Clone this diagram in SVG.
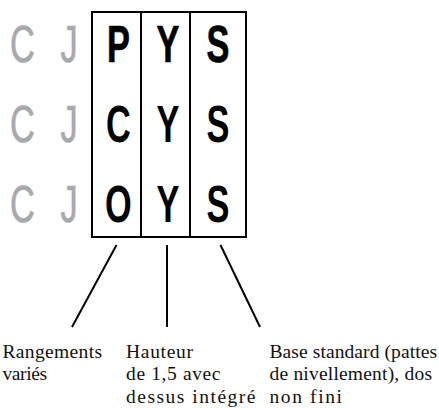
<svg xmlns="http://www.w3.org/2000/svg" width="439" height="408" viewBox="0 0 439 408">
<style>
.big{font-family:"Liberation Sans",Arial,sans-serif;font-size:52px;font-weight:bold;text-anchor:middle}
.gray{fill:#a7a9ac;font-weight:normal;stroke:#a7a9ac;stroke-width:0.7}
.blk{fill:#000}
.r1{stroke:#000;stroke-width:0.7}
.lbl{font-family:'Liberation Serif','Times New Roman',serif;font-size:19.5px;fill:#111}
.box{fill:none;stroke:#000;stroke-width:2}
.conn{stroke:#000;stroke-width:2;fill:none}
</style>
<g id="row-labels">
<g transform="scale(0.66,1)">
<text class="big gray" x="34" y="62">C</text>
<text class="big gray" x="104.5" y="62">J</text>
<text class="big gray" x="34" y="142">C</text>
<text class="big gray" x="104.5" y="142">J</text>
<text class="big gray" x="34" y="222">C</text>
<text class="big gray" x="104.5" y="222">J</text>
</g>
</g>
<g id="grid">
<rect class="box" x="92" y="12" width="154" height="225"/>
<line class="box" x1="141" y1="12" x2="141" y2="237"/>
<line class="box" x1="190" y1="12" x2="190" y2="237"/>
</g>
<g id="col1">
<g transform="scale(0.66,1)">
<text class="big blk r1" x="179.5" y="62">P</text>
<text class="big blk" x="179.5" y="142">C</text>
<text class="big blk" x="179.5" y="222">O</text>
</g>
</g>
<g id="col2">
<g transform="scale(0.66,1)">
<text class="big blk r1" x="254.5" y="62">Y</text>
<text class="big blk" x="254.5" y="142">Y</text>
<text class="big blk" x="254.5" y="222">Y</text>
</g>
</g>
<g id="col3">
<g transform="scale(0.66,1)">
<text class="big blk r1" x="330.3" y="62">S</text>
<text class="big blk" x="330.3" y="142">S</text>
<text class="big blk" x="330.3" y="222">S</text>
</g>
</g>
<g id="connectors">
<line class="conn" x1="116.5" y1="245" x2="72" y2="327"/>
<line class="conn" x1="167" y1="245" x2="167" y2="327"/>
<line class="conn" x1="220.5" y1="245" x2="260" y2="327"/>
</g>
<g id="label1">
<text class="lbl" x="2.5" y="357.5" textLength="99.5" lengthAdjust="spacing">Rangements</text>
<text class="lbl" x="2.5" y="380" textLength="44.5" lengthAdjust="spacing">variés</text>
</g>
<g id="label2">
<text class="lbl" x="126" y="357.5" textLength="67" lengthAdjust="spacing">Hauteur</text>
<text class="lbl" x="126" y="380" textLength="94.5" lengthAdjust="spacing">de 1,5 avec</text>
<text class="lbl" x="126" y="402.5" textLength="129.5" lengthAdjust="spacing">dessus intégré</text>
</g>
<g id="label3">
<text class="lbl" x="269.5" y="357.5" textLength="167.5" lengthAdjust="spacing">Base standard (pattes</text>
<text class="lbl" x="269.5" y="380" textLength="162.5" lengthAdjust="spacing">de nivellement), dos</text>
<text class="lbl" x="269.5" y="402.5" textLength="72.5" lengthAdjust="spacing">non fini</text>
</g>
</svg>
